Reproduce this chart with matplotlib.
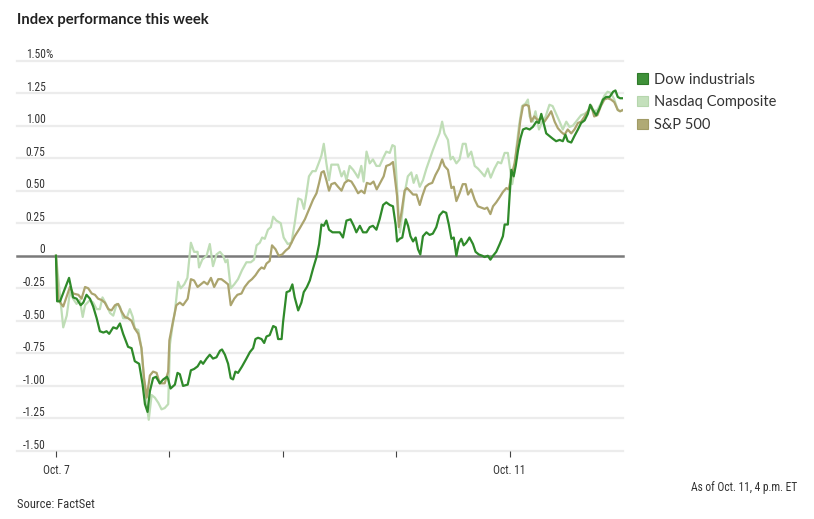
import matplotlib
matplotlib.use("Agg")
import matplotlib.pyplot as plt
from matplotlib import font_manager
from matplotlib.patches import Patch

# ---------------- data ----------------
title = "Index performance this week"
series_names = ["Dow industrials", "Nasdaq Composite", "S&P 500"]
source_text = "Source: FactSet"
asof_text = "As of Oct. 11, 4 p.m. ET"

# x: trading minutes since Oct. 7 open (390 trading minutes per day)
x_tick_minutes = [0, 390, 780, 1170, 1560]
x_tick_labels = ["Oct. 7", "", "", "", "Oct. 11"]
y_ticks = [1.5, 1.25, 1.0, 0.75, 0.5, 0.25, 0.0, -0.25, -0.5, -0.75, -1.0, -1.25, -1.5]
y_tick_labels = ["1.50", "1.25", "1.00", "0.75", "0.50", "0.25", "0",
                 "-0.25", "-0.50", "-0.75", "-1.00", "-1.25", "-1.50"]

dow_t = [0, 4, 14, 45, 59, 71, 85, 94, 105, 117,
         128, 140, 151, 163, 174, 183, 197, 209, 220, 231,
         248, 260, 271, 286, 298, 306, 315, 323, 334, 344,
         357, 369, 382,
         386, 394, 409, 418, 426, 437, 453, 464, 475, 487,
         498, 506, 518, 529, 540, 552, 564, 571, 581, 592,
         601, 609, 617, 626, 640, 655, 667, 678, 686, 695,
         707, 716, 724, 735, 747, 756, 764, 776,
         781, 793, 804, 813, 821, 833, 844, 852, 863, 873,
         884, 896, 905, 913, 921, 930, 939, 951, 964, 976,
         987, 999, 1013, 1024, 1033, 1045, 1056, 1068, 1079, 1090,
         1102, 1113, 1125, 1136, 1148, 1159, 1168, 1173,
         1182, 1191, 1203, 1211, 1219, 1228, 1237, 1245, 1253, 1262,
         1274, 1285, 1296, 1308, 1319, 1331, 1342, 1351, 1360, 1368,
         1377, 1386, 1394, 1402, 1411, 1422, 1434, 1443, 1454, 1466,
         1474, 1485, 1494, 1503, 1514, 1526, 1537, 1543, 1554, 1560,
         1566, 1574, 1581, 1589, 1597, 1606, 1617, 1629, 1640, 1652,
         1661, 1669, 1677, 1686, 1697, 1708, 1720, 1732, 1743, 1752,
         1760, 1772, 1783, 1795, 1806, 1818, 1829, 1837, 1846, 1858,
         1869, 1881, 1892, 1904, 1916, 1924, 1932, 1940, 1950]
dow_v = [0, -0.35, -0.35, -0.17, -0.32, -0.33, -0.38, -0.36, -0.30, -0.33,
         -0.39, -0.48, -0.58, -0.59, -0.58, -0.60, -0.55, -0.56, -0.52, -0.60,
         -0.70, -0.71, -0.81, -0.83, -0.99, -1.14, -1.20, -1.04, -0.94, -0.93,
         -0.98, -0.95, -0.93,
         -0.95, -1.02, -0.99, -0.90, -0.91, -1.00, -0.99, -0.88, -0.87, -0.85,
         -0.81, -0.83, -0.79, -0.76, -0.79, -0.78, -0.73, -0.72, -0.76, -0.83,
         -0.94, -0.95, -0.89, -0.90, -0.85, -0.79, -0.74, -0.71, -0.64, -0.63,
         -0.64, -0.67, -0.62, -0.61, -0.54, -0.55, -0.64, -0.64,
         -0.51, -0.28, -0.27, -0.22, -0.32, -0.42, -0.36, -0.28, -0.24, -0.19,
         -0.10, -0.01, 0.09, 0.24, 0.23, 0.27, 0.20, 0.18, 0.18, 0.18,
         0.14, 0.27, 0.28, 0.23, 0.18, 0.23, 0.18, 0.18, 0.22, 0.23,
         0.20, 0.28, 0.39, 0.41, 0.39, 0.38, 0.24, 0.11,
         0.13, 0.14, 0.28, 0.23, 0.15, 0.11, 0.14, 0.05, 0.01, 0.15,
         0.18, 0.16, 0.17, 0.22, 0.31, 0.34, 0.33, 0.24, 0.13, 0.14,
         0.00, 0.10, 0.13, 0.08, 0.10, 0.14, 0.09, 0.03, 0.01, 0.00,
         -0.01, 0.00, -0.03, 0.00, 0.03, 0.09, 0.15, 0.24, 0.24, 0.46,
         0.66, 0.61, 0.69, 0.81, 0.90, 0.97, 0.98, 0.97, 0.99, 1.03,
         1.02, 1.09, 1.02, 0.94, 0.92, 0.90, 0.88, 0.89, 0.88, 0.93,
         0.88, 0.87, 0.92, 0.97, 1.02, 1.04, 1.09, 1.16, 1.12, 1.08,
         1.13, 1.20, 1.22, 1.22, 1.26, 1.27, 1.22, 1.21, 1.21]

nas_t = [0, 25, 37, 48, 59, 71, 82, 92, 100, 117,
         128, 140, 151, 160, 172, 186, 197, 209, 220, 231,
         243, 254, 264, 271, 283, 294, 302, 312, 319, 329,
         340, 352, 363, 374, 386, 392, 400, 409, 420, 429,
         441, 452, 464, 475, 487, 492, 503, 518, 529, 540,
         552, 564, 575, 583, 590, 601, 613, 626, 640, 655,
         670, 681, 690, 701, 709, 718, 729, 739, 747, 758,
         773, 783, 797, 810, 821, 833, 844, 853, 861, 870,
         882, 893, 905, 913, 921, 930, 939, 947, 959, 970,
         982, 991, 999, 1010, 1022, 1031, 1039, 1050, 1058, 1068,
         1079, 1090, 1102, 1113, 1125, 1136, 1148, 1157, 1165, 1171,
         1176, 1183, 1191, 1199, 1210, 1222, 1230, 1240, 1251, 1262,
         1274, 1285, 1296, 1308, 1319, 1328, 1336, 1348, 1357, 1365,
         1377, 1388, 1399, 1409, 1417, 1428, 1440, 1451, 1463, 1474,
         1485, 1495, 1508, 1520, 1531, 1543, 1554, 1562, 1569, 1576,
         1583, 1592, 1603, 1615, 1623, 1629, 1640, 1649, 1661, 1672,
         1684, 1697, 1708, 1720, 1732, 1743, 1755, 1766, 1778, 1792,
         1806, 1818, 1829, 1838, 1851, 1862, 1874, 1886, 1897, 1909,
         1920, 1932, 1940, 1950]
nas_v = [0, -0.55, -0.46, -0.28, -0.33, -0.37, -0.34, -0.47, -0.38, -0.34,
         -0.36, -0.41, -0.41, -0.32, -0.37, -0.44, -0.46, -0.37, -0.39, -0.48,
         -0.48, -0.41, -0.47, -0.56, -0.57, -0.71, -0.94, -1.14, -1.26, -1.07,
         -1.09, -1.13, -1.18, -1.17, -1.14, -0.68, -0.55, -0.43, -0.20, -0.25,
         -0.22, -0.17, 0.10, 0.03, 0.03, -0.09, -0.03, 0.00, 0.09, -0.08,
         0.01, 0.03, 0.00, -0.05, -0.03, -0.25, -0.22, -0.18, -0.11, -0.05,
         -0.05, -0.03, 0.08, 0.10, 0.14, 0.13, 0.20, 0.22, 0.30, 0.27,
         0.25, 0.14, 0.09, 0.10, 0.25, 0.44, 0.43, 0.36, 0.47, 0.61,
         0.65, 0.65, 0.72, 0.77, 0.86, 0.71, 0.58, 0.70, 0.70, 0.70,
         0.61, 0.65, 0.58, 0.69, 0.66, 0.63, 0.60, 0.69, 0.57, 0.80,
         0.71, 0.74, 0.69, 0.69, 0.75, 0.80, 0.79, 0.85, 0.84, 0.60,
         0.40, 0.18, 0.33, 0.48, 0.61, 0.64, 0.56, 0.62, 0.53, 0.58,
         0.67, 0.74, 0.81, 0.88, 0.94, 1.03, 0.94, 0.89, 0.74, 0.76,
         0.71, 0.74, 0.86, 0.86, 0.76, 0.80, 0.69, 0.67, 0.64, 0.61,
         0.67, 0.60, 0.67, 0.72, 0.71, 0.79, 0.79, 0.66, 0.55, 0.64,
         0.82, 0.99, 1.15, 1.17, 1.20, 1.07, 1.03, 1.11, 0.97, 1.03,
         1.07, 1.16, 1.15, 1.09, 1.03, 0.97, 1.03, 0.99, 1.00, 1.04,
         1.08, 1.09, 1.11, 1.16, 1.11, 1.12, 1.17, 1.23, 1.26, 1.25,
         1.20, 1.12, 1.11, 1.12]

sp_t = [0, 8, 25, 48, 59, 77, 88, 100, 111, 123,
        134, 145, 157, 168, 180, 191, 203, 214, 226, 237,
        248, 260, 271, 283, 294, 303, 312, 323, 334, 346,
        357, 374, 386, 390, 402, 414, 426, 437, 453, 464,
        475, 487, 498, 509, 521, 533, 544, 558, 569, 581,
        592, 601, 613, 624, 638, 649, 663, 674, 686, 698,
        707, 716, 724, 735, 743, 755, 766, 778, 790, 801,
        821, 838, 856, 873, 884, 896, 905, 913, 921, 930,
        939, 947, 959, 970, 982, 993, 1005, 1016, 1027, 1039,
        1050, 1061, 1069, 1081, 1092, 1103, 1115, 1127, 1136, 1148,
        1159, 1165, 1173, 1179, 1188, 1199, 1207, 1216, 1228, 1240,
        1251, 1260, 1271, 1282, 1294, 1305, 1317, 1328, 1336, 1348,
        1360, 1368, 1377, 1388, 1399, 1409, 1417, 1428, 1440, 1451,
        1463, 1474, 1483, 1494, 1503, 1514, 1526, 1537, 1549, 1557,
        1566, 1577, 1589, 1597, 1606, 1617, 1626, 1634, 1645, 1657,
        1669, 1680, 1692, 1703, 1715, 1726, 1738, 1749, 1760, 1772,
        1783, 1795, 1806, 1818, 1829, 1841, 1851, 1862, 1874, 1886,
        1897, 1909, 1920, 1932, 1940, 1950]
sp_v = [0, -0.34, -0.39, -0.24, -0.29, -0.30, -0.33, -0.24, -0.25, -0.29,
        -0.30, -0.33, -0.34, -0.36, -0.41, -0.42, -0.38, -0.37, -0.43, -0.47,
        -0.48, -0.50, -0.56, -0.60, -0.71, -0.94, -1.09, -0.92, -0.89, -0.90,
        -0.98, -0.98, -0.89, -0.65, -0.51, -0.38, -0.36, -0.38, -0.33, -0.18,
        -0.19, -0.24, -0.22, -0.20, -0.22, -0.17, -0.24, -0.18, -0.18, -0.20,
        -0.22, -0.38, -0.33, -0.30, -0.29, -0.24, -0.20, -0.18, -0.15, -0.11,
        -0.09, -0.10, -0.06, -0.04, 0.08, 0.05, 0.00, 0.01, 0.04, 0.06,
        0.15, 0.21, 0.28, 0.37, 0.43, 0.48, 0.56, 0.64, 0.65, 0.58,
        0.50, 0.55, 0.56, 0.53, 0.50, 0.56, 0.58, 0.57, 0.53, 0.48,
        0.50, 0.48, 0.56, 0.55, 0.57, 0.51, 0.56, 0.61, 0.69, 0.70,
        0.72, 0.61, 0.46, 0.22, 0.33, 0.50, 0.52, 0.50, 0.47, 0.47,
        0.39, 0.46, 0.53, 0.55, 0.56, 0.62, 0.67, 0.74, 0.69, 0.66,
        0.52, 0.53, 0.42, 0.48, 0.55, 0.55, 0.47, 0.51, 0.43, 0.38,
        0.37, 0.36, 0.37, 0.32, 0.38, 0.41, 0.45, 0.49, 0.52, 0.51,
        0.61, 0.71, 0.89, 1.04, 1.15, 1.16, 1.15, 1.03, 1.07, 1.04,
        1.06, 1.03, 1.07, 1.11, 1.03, 0.98, 0.95, 0.93, 0.97, 0.94,
        0.97, 1.02, 1.03, 1.07, 1.11, 1.15, 1.07, 1.08, 1.15, 1.20,
        1.21, 1.20, 1.18, 1.12, 1.11, 1.12]

# ---------------- style ----------------
DOW_C = "#2f8a2a"
NAS_C = "#bfddb6"
SP_C = "#aba46e"
LEG_COLORS = ["#3f9139", "#c4e0bc", "#b0aa75"]
LEG_EDGES = ["#2f7a2a", "#b6d6ad", "#a19b66"]
GRID_C = "#ececec"
ZERO_C = "#7a7a7a"
TEXT_C = "#333333"

available = {f.name for f in font_manager.fontManager.ttflist}


def pick(cands):
    for c in cands:
        if c in available:
            return c
    return "DejaVu Sans"


NARROW = pick(["Liberation Sans Narrow", "Roboto Condensed", "Open Sans Condensed", "Liberation Sans"])
MAIN = pick(["Lato", "Open Sans", "DejaVu Sans"])

W, H = 814, 519
fig = plt.figure(figsize=(W / 100, H / 100), dpi=100)
ax_left_px, ax_right_px = 17, 623
ax_top_px, ax_bot_px = 60.5, 451
ax = fig.add_axes([ax_left_px / W, 1 - ax_bot_px / H,
                   (ax_right_px - ax_left_px) / W, (ax_bot_px - ax_top_px) / H])
ax.set_xlim(-134, 1950)
ax.set_ylim(-1.5, 1.5)

for s in ax.spines.values():
    s.set_visible(False)

# gridlines
for yv in y_ticks:
    if yv == 0:
        continue
    ax.axhline(yv, color=GRID_C, lw=1.6, zorder=0, clip_on=False)

ax.plot(nas_t, nas_v, color=NAS_C, lw=1.6, zorder=2, solid_joinstyle="round")
ax.plot(sp_t, sp_v, color=SP_C, lw=1.6, zorder=3, solid_joinstyle="round")
ax.plot(dow_t, dow_v, color=DOW_C, lw=1.6, zorder=4, solid_joinstyle="round")
ax.axhline(0, color=ZERO_C, lw=1.8, zorder=1, clip_on=False)

# y labels above gridlines
ax.set_yticks([])
for yv, lab in zip(y_ticks, y_tick_labels):
    ax.annotate(lab, xy=(0, yv), xycoords=("axes fraction", "data"),
                xytext=(20.5, -0.5), textcoords="offset points",
                ha="right", va="bottom", fontsize=8.3, color=TEXT_C,
                family=[NARROW, "DejaVu Sans"])
    if yv == 1.5:
        ax.annotate("%", xy=(0, yv), xycoords=("axes fraction", "data"),
                    xytext=(20.5, -0.5), textcoords="offset points",
                    ha="left", va="bottom", fontsize=8.3, color=TEXT_C,
                    family=[NARROW, "DejaVu Sans"])

# x ticks
ax.set_xticks(x_tick_minutes)
ax.set_xticklabels(x_tick_labels, fontsize=8.3, color=TEXT_C, family=[NARROW, "DejaVu Sans"])
ax.tick_params(axis="x", length=4.5, width=0.8, color="#444444", pad=4.5)

# title
fig.text(17 / W, 1 - 20 / H, title, ha="left", va="center", fontsize=10.6,
         fontweight="bold", color="#222222", family=[MAIN, "DejaVu Sans"])

# legend
handles = [Patch(facecolor=c, edgecolor=e, linewidth=0.8) for c, e in zip(LEG_COLORS, LEG_EDGES)]
fig.legend(handles, series_names, loc="upper left",
           bbox_to_anchor=(637 / W, 1 - 72.5 / H), frameon=False,
           prop={"family": [MAIN, "DejaVu Sans"], "size": 10.5},
           handlelength=0.72, handleheight=0.72, handletextpad=0.45,
           labelspacing=0.6, borderaxespad=0, borderpad=0, labelcolor=TEXT_C)

# footer
fig.text(797 / W, 1 - 488 / H, asof_text, ha="right", va="center", fontsize=8.3,
         color=TEXT_C, family=[NARROW, "DejaVu Sans"])
fig.text(17 / W, 1 - 505 / H, source_text, ha="left", va="center", fontsize=9,
         color=TEXT_C, family=[NARROW, "DejaVu Sans"])

fig.savefig("out.png", dpi=100)
